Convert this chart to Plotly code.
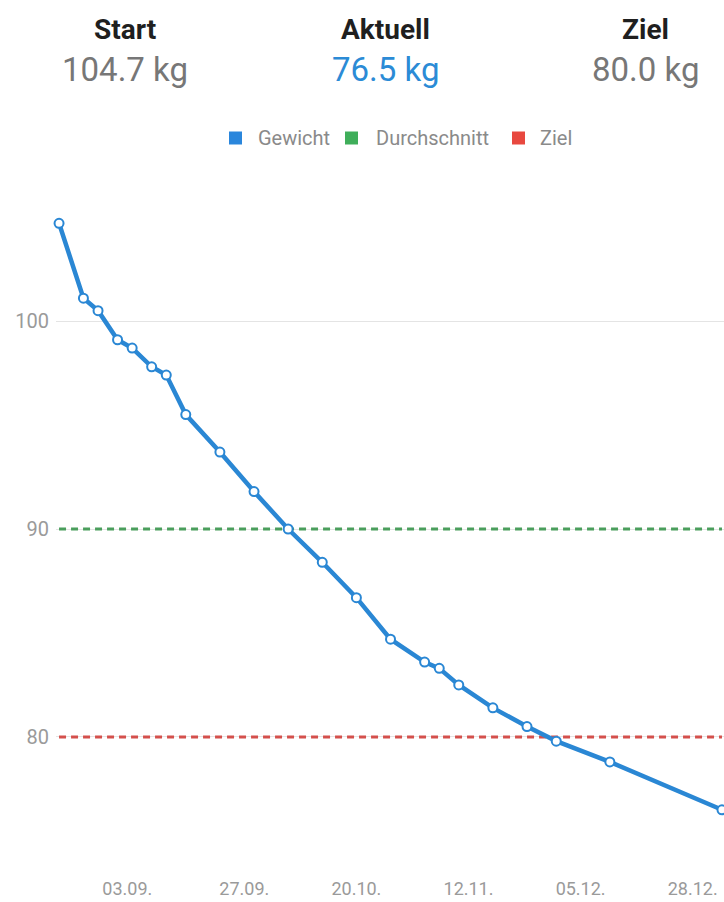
import plotly.graph_objects as go

# ---------------- data ----------------
dates = ["2019-08-20", "2019-08-25", "2019-08-28", "2019-09-01", "2019-09-04",
         "2019-09-08", "2019-09-11", "2019-09-15", "2019-09-22", "2019-09-29",
         "2019-10-06", "2019-10-13", "2019-10-20", "2019-10-27", "2019-11-03",
         "2019-11-06", "2019-11-10", "2019-11-17", "2019-11-24", "2019-11-30",
         "2019-12-11", "2020-01-03"]
weights = [104.7, 101.1, 100.5, 99.1, 98.7, 97.8, 97.4, 95.5, 93.7, 91.8,
           90.0, 88.4, 86.7, 84.7, 83.6, 83.3, 82.5, 81.4, 80.5, 79.8,
           78.8, 76.5]
average = 90.0
goal = 80.0
start_weight = 104.7
current_weight = 76.5

tick_dates = ["2019-09-03", "2019-09-27", "2019-10-20", "2019-11-12",
              "2019-12-05", "2019-12-28"]
tick_labels = ["03.09.", "27.09.", "20.10.", "12.11.", "05.12.", "28.12."]
y_ticks = [80, 90, 100]

header_titles = ["Start", "Aktuell", "Ziel"]
header_values = [f"{start_weight:.1f} kg", f"{current_weight:.1f} kg", f"{goal:.1f} kg"]
legend_names = ["Gewicht", "Durchschnitt", "Ziel"]

# ---------------- style ----------------
BLUE = "#2a87d4"
GREEN = "#4a9e5c"
RED = "#d4504c"
LEG_BLUE = "#2a86dc"
LEG_GREEN = "#3fae5a"
LEG_RED = "#e8483f"
FONT = "Roboto"

W, H = 724, 902
L, R, T, B = 56, 0, 190, 34
PW, PH = W - L - R, H - T - B


def px_x(px):
    return (px - L) / PW


def px_y(py):
    return (H - B - py) / PH


fig = go.Figure()

# reference lines (average / goal), spanning the data's date range
fig.add_trace(go.Scatter(
    x=[dates[0], dates[-1]], y=[average, average], mode="lines",
    line=dict(color=GREEN, width=3, dash="7px,5px"),
    cliponaxis=False, showlegend=False, name=legend_names[1], hoverinfo="skip",
))
fig.add_trace(go.Scatter(
    x=[dates[0], dates[-1]], y=[goal, goal], mode="lines",
    line=dict(color=RED, width=3, dash="7px,5px"),
    cliponaxis=False, showlegend=False, name=legend_names[2], hoverinfo="skip",
))

fig.add_trace(go.Scatter(
    x=dates, y=weights, mode="lines+markers",
    line=dict(color=BLUE, width=4.5),
    marker=dict(symbol="circle", size=9, color="white",
                line=dict(color=BLUE, width=2)),
    cliponaxis=False, showlegend=False, name=legend_names[0],
))

shapes = []
annotations = []
header_x = [125, 385, 645]
value_colors = ["#777777", "#2b8bd6", "#777777"]
for hx, title, val, col in zip(header_x, header_titles, header_values, value_colors):
    annotations.append(dict(xref="paper", yref="paper", x=px_x(hx), y=px_y(29),
                            text=f"<b>{title}</b>", showarrow=False,
                            xanchor="center", yanchor="middle",
                            font=dict(family=FONT, size=28, color="#1f1f1f")))
    annotations.append(dict(xref="paper", yref="paper", x=px_x(hx), y=px_y(70),
                            text=val, showarrow=False,
                            xanchor="center", yanchor="middle",
                            font=dict(family=FONT, size=33, color=col)))

# custom legend (square swatches)
leg_sq_x = [229, 345, 512]
leg_txt_x = [256, 374, 538]
leg_cols = [LEG_BLUE, LEG_GREEN, LEG_RED]
leg_y = 138
for sx, tx, col, name in zip(leg_sq_x, leg_txt_x, leg_cols, legend_names):
    shapes.append(dict(type="rect", xref="paper", yref="paper",
                       x0=px_x(sx), x1=px_x(sx + 13),
                       y0=px_y(leg_y + 6.5), y1=px_y(leg_y - 6.5),
                       fillcolor=col, line=dict(width=0)))
    annotations.append(dict(xref="paper", yref="paper", x=px_x(tx), y=px_y(leg_y),
                            text=name, showarrow=False,
                            xanchor="left", yanchor="middle",
                            font=dict(family=FONT, size=20, color="#8a8a8a")))

fig.update_layout(
    width=W, height=H,
    margin=dict(l=L, r=R, t=T, b=B, pad=0),
    paper_bgcolor="white", plot_bgcolor="white",
    shapes=shapes, annotations=annotations,
    showlegend=False,
    xaxis=dict(type="date", range=["2019-08-19 09:00", "2020-01-03 10:00"],
               tickvals=tick_dates, ticktext=tick_labels,
               showgrid=False, zeroline=False, showline=False, ticks="",
               ticklabelstandoff=8,
               tickfont=dict(family=FONT, size=18, color="#9a9a9a")),
    yaxis=dict(range=[73.70, 106.30], tickvals=y_ticks,
               showgrid=True, gridcolor="#e4e4e4", gridwidth=1,
               zeroline=False, showline=False, ticks="",
               ticklabelstandoff=6,
               tickfont=dict(family=FONT, size=20, color="#9a9a9a")),
)

fig.write_html("out.html")
